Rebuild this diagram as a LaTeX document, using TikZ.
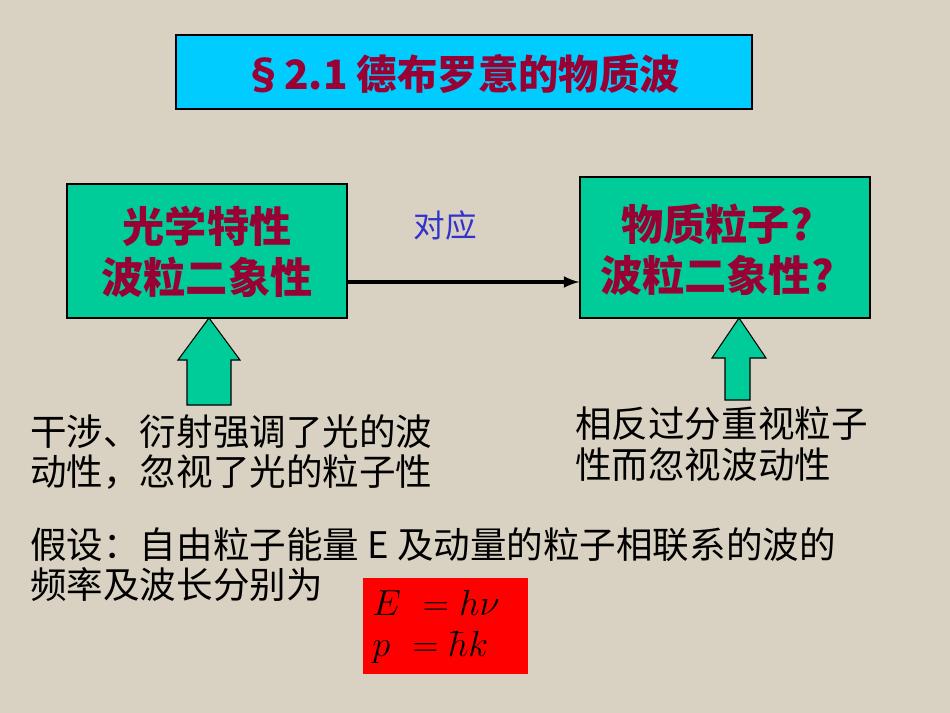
\documentclass[tikz,border=0pt]{standalone}
\usepackage{fontspec}
\newfontfamily\cjk{Noto Sans CJK SC}
\usetikzlibrary{shapes.arrows}
\definecolor{bg}{HTML}{D9D2C2}
\definecolor{cyanbox}{HTML}{00CCFF}
\definecolor{greenbox}{HTML}{00CC99}
\definecolor{darkred}{HTML}{990033}
\definecolor{bluetxt}{HTML}{3333CC}
\begin{document}
\begin{tikzpicture}[x=0.02cm,y=-0.02cm,
  gbox/.style={draw=black,fill=greenbox,line width=0.8pt},
  redtxt/.style={text=darkred,font=\cjk\bfseries\fontsize{24}{29}\selectfont,align=center},
  bodytxt/.style={anchor=west,font=\cjk\fontsize{20.8}{22}\selectfont,text=black,inner sep=0pt},
  uparrow/.style={draw=black,fill=greenbox,line width=0.6pt}]
\fill[bg] (0,0) rectangle (950,713);
\useasboundingbox (0,0) rectangle (950,713);
\node[draw=black,fill=cyanbox,minimum width=11.52cm,minimum height=1.48cm,line width=0.8pt] (title) at (464,72) {};
\node[text=darkred,font=\cjk\bfseries\fontsize{23}{26}\selectfont] (tt) at (462,74) {§2.1 德布罗意的物质波};
\node[gbox,minimum width=5.6cm,minimum height=2.68cm] (lb) at (207,251) {};
\node[redtxt] (lt) at (207,252) {光学特性\\波粒二象性};
\node[gbox,minimum width=5.8cm,minimum height=2.82cm] (rb) at (725,247.5) {};
\node[redtxt] (rt) at (717,250) {物质粒子?\\波粒二象性?};
\draw[-latex,line width=2pt] (lb.east|-0,282) coordinate (a1) -- (rb.west|-0,282) coordinate (a2);
\node[text=bluetxt,font=\cjk\fontsize{18}{20}\selectfont] (dy) at (445,225) {对应};
\draw[uparrow] (187,405) -- (187,360) -- (178,360) -- (209,318) -- (240,360) -- (231,360) -- (231,405) -- cycle;
\draw[uparrow] (725,400) -- (725,358) -- (712,358) -- (739,318) -- (766,358) -- (750,358) -- (750,400) -- cycle;
\node[bodytxt] (l1) at (30,432) {干涉、衍射强调了光的波};
\node[bodytxt] (l2) at (30,472) {动性，忽视了光的粒子性};
\node[bodytxt] (r1) at (575,424) {相反过分重视粒子};
\node[bodytxt] (r2) at (575,465) {性而忽视波动性};
\node[bodytxt] (h1) at (30,545) {假设：自由粒子能量 E 及动量的粒子相联系的波的};
\node[bodytxt] (h2) at (30,585) {频率及波长分别为};
\node[draw=red,fill=red,minimum width=3.28cm,minimum height=1.9cm] (fb) at (445,625.5) {};
\node[font=\fontsize{22}{26}\selectfont,anchor=west,inner sep=0pt] (f1) at (372,603) {$E\ =h\nu$};
\node[font=\fontsize{22}{26}\selectfont,anchor=west,inner sep=0pt] (f2) at (372,647) {$p\ =\hbar k$};
\end{tikzpicture}
\end{document}
